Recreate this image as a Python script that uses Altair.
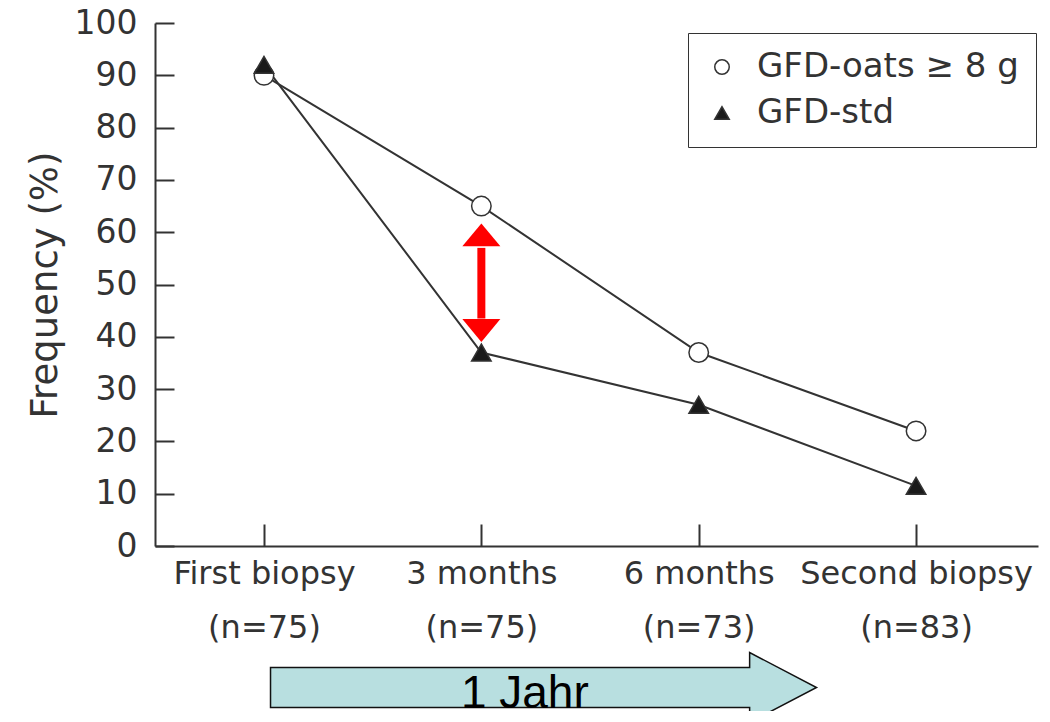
import json
import altair as alt
import pandas as pd

# ---- data ----
categories = ["First biopsy", "3 months", "6 months", "Second biopsy"]
n_labels = ["(n=75)", "(n=75)", "(n=73)", "(n=83)"]
series_names = ["GFD-oats \u2265 8 g", "GFD-std"]
oats_values = [90, 65, 37, 22]
std_values = [92, 37, 27, 11.5]
y_ticks = list(range(0, 101, 10))
x_ticks = [0, 1, 2, 3]

# red "difference" arrow at 3 months (data units)
diff_idx = [1]
diff_shaft = [57.0, 43.5]
diff_heads = [59.5, 41.2]

# "1 Jahr" timeline arrow below the axis (data units)
year_arrow_idx = [1.286]
year_arrow_val = [-27.05]
year_text_idx = [1.2]
year_text_val = [-30.9]
year_label = ["1 Jahr"]

FONT = "DejaVu Sans"
TXT = "#333333"
W, H = 883, 523
X_DOM = [-0.5015, 3.561]

df = pd.DataFrame({
    "idx": x_ticks * 2,
    "value": oats_values + std_values,
    "series": [series_names[0]] * 4 + [series_names[1]] * 4,
})

label_expr = "[" + json.dumps(categories) + "[datum.value], " + json.dumps(n_labels) + "[datum.value]]"

x_scale = alt.Scale(domain=X_DOM, nice=False, zero=False)
y_scale = alt.Scale(domain=[0, 100], nice=False, zero=False)

x_main = alt.X("idx:Q", scale=x_scale, axis=alt.Axis(
    values=x_ticks, labelExpr=label_expr, ticks=False, tickSize=0, grid=False, title=None,
    labelFontSize=32, labelFont=FONT, labelColor=TXT, labelPadding=12, labelLineHeight=54,
    labelBaseline="top", domainColor=TXT, domainWidth=2, labelFlush=False, labelLimit=0,
    labelOverlap=False))
y_main = alt.Y("value:Q", scale=y_scale, axis=alt.Axis(
    values=y_ticks, ticks=False, tickSize=0, grid=False, title="Frequency (%)",
    labelFontSize=33, labelFont=FONT, labelColor=TXT, labelPadding=18,
    titleFontSize=37, titleFont=FONT, titleColor=TXT, titleFontWeight="normal", titlePadding=10,
    domainColor=TXT, domainWidth=2, labelFlush=False, labelOverlap=False))

x_plain = alt.X("idx:Q", scale=x_scale, axis=None)

lines = alt.Chart(df).mark_line(color=TXT, strokeWidth=2, clip=False).encode(
    x=x_main, y=y_main, detail="series:N")

legend = alt.Legend(title=None, orient="none", legendX=533, legendY=10,
                    strokeColor=TXT, padding=17, labelFontSize=34, labelFont=FONT,
                    labelColor=TXT, symbolSize=210, symbolStrokeWidth=1.5,
                    rowPadding=12, labelOffset=18, labelLimit=400)

points = alt.Chart(df).mark_point(filled=True, strokeWidth=1.5, size=380,
                                  opacity=1, clip=False).encode(
    x=x_plain,
    y=alt.Y("value:Q", scale=y_scale, axis=None),
    shape=alt.Shape("series:N", scale=alt.Scale(domain=series_names, range=["circle", "triangle-up"]), legend=legend),
    fill=alt.Fill("series:N", scale=alt.Scale(domain=series_names, range=["white", "#1a1a1a"]), legend=legend),
    stroke=alt.Stroke("series:N", scale=alt.Scale(domain=series_names, range=[TXT, TXT]), legend=legend),
)

# inward ticks: mirrored axes on the same scales
tick_layer = alt.Chart(df).mark_point(opacity=0).encode(
    x=alt.X("idx:Q", scale=x_scale, axis=alt.Axis(
        orient="top", offset=-H, values=x_ticks, labels=False, domain=False, grid=False,
        ticks=True, tickSize=22, tickWidth=2, tickColor=TXT, title=None)),
    y=alt.Y("value:Q", scale=y_scale, axis=alt.Axis(
        orient="right", offset=-W, values=y_ticks, labels=False, domain=False, grid=False,
        ticks=True, tickSize=19, tickWidth=2, tickColor=TXT, title=None)),
)

diff_df = pd.DataFrame({"idx": diff_idx, "y1": [diff_shaft[0]], "y2": [diff_shaft[1]]})
shaft = alt.Chart(diff_df).mark_rule(color="#ff0000", strokeWidth=8).encode(
    x=x_plain, y=alt.Y("y1:Q", scale=y_scale, axis=None), y2="y2:Q")
head_up = alt.Chart(pd.DataFrame({"idx": diff_idx, "v": [diff_heads[0]]})).mark_point(
    shape="M0,-0.6L1,0.6L-1,0.6Z", filled=True, size=1444, color="#ff0000", opacity=1).encode(
    x=x_plain, y=alt.Y("v:Q", scale=y_scale, axis=None))
head_down = alt.Chart(pd.DataFrame({"idx": diff_idx, "v": [diff_heads[1]]})).mark_point(
    shape="M0,0.6L1,-0.6L-1,-0.6Z", filled=True, size=1444, color="#ff0000", opacity=1).encode(
    x=x_plain, y=alt.Y("v:Q", scale=y_scale, axis=None))

year_arrow = alt.Chart(pd.DataFrame({"idx": year_arrow_idx, "v": year_arrow_val})).mark_point(
    shape="M-1,-0.073L0.755,-0.073L0.755,-0.128L1,0L0.755,0.128L0.755,0.073L-1,0.073Z",
    filled=True, fill="#b8dfe0", stroke="#111111", strokeWidth=1.5, size=298116, opacity=1, clip=False).encode(
    x=x_plain, y=alt.Y("v:Q", scale=y_scale, axis=None))
year_text = alt.Chart(pd.DataFrame({"idx": year_text_idx, "v": year_text_val, "t": year_label})).mark_text(
    font="Liberation Sans", fontSize=46, color="#000000", baseline="alphabetic", align="center", clip=False).encode(
    x=x_plain, y=alt.Y("v:Q", scale=y_scale, axis=None), text="t:N")

chart = alt.layer(
    lines, tick_layer, points, shaft, head_up, head_down, year_arrow, year_text
).resolve_axis(x="independent", y="independent").properties(
    width=W, height=H, background="white",
    autosize=alt.AutoSizeParams(type="none"),
    padding={"left": 147, "top": 15, "right": 2, "bottom": 165},
).configure_view(stroke=None)

chart.save("out.html", embed_options={"renderer": "svg", "actions": False})
